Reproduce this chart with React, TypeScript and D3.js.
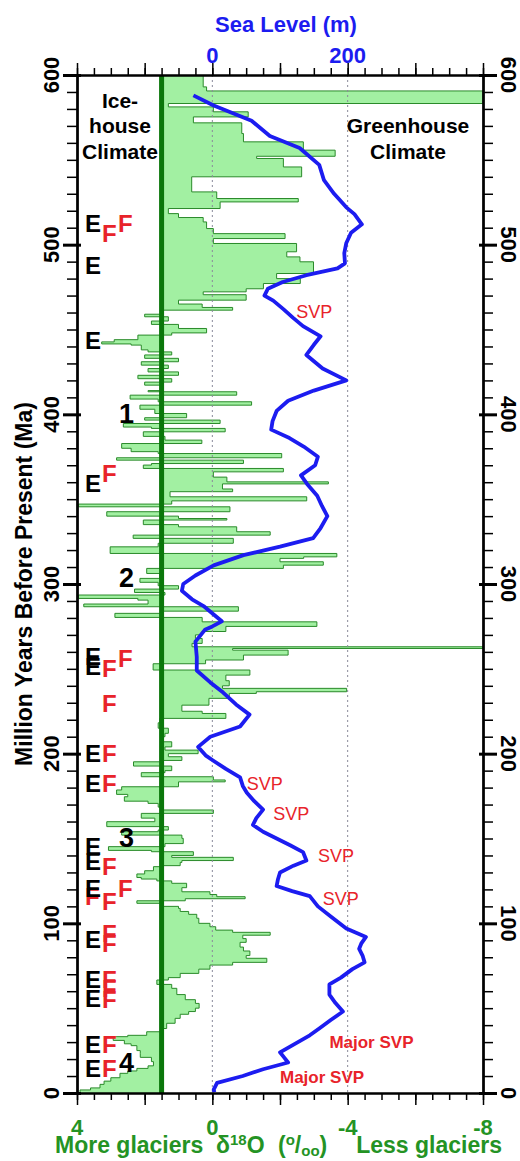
import React, { useEffect, useRef } from 'react';
import * as d3 from 'd3';

// oxygen isotope record, [age Ma, d18O permil]; each value holds until the next (younger) age
const d18O: [number, number][] = [
  [600, 0.27], [593, 0.17], [590.6, -8], [583.2, 1.3], [581.2, -0.03], [578.3, -1.06],
  [575.3, 0.56], [571.8, -0.87], [565.5, -0.92], [560.6, -2.69], [555.7, -3.63], [552.1, -1.31],
  [550.8, -2.1], [545.8, -2.64], [540, 0.61], [531.1, -0.13], [527.2, -2.54], [525.2, -0.23],
  [521.3, 1.3], [518.3, 1.0], [516, 0.27], [513.4, 0.17], [509.5, -0.03], [506.5, -2.15],
  [503.6, -0.03], [500.7, -2.49], [495.8, -2.2], [492.8, -2.59], [489.9, -2.99], [483, -1.9],
  [480, -2.6], [477.1, -1.51], [474, -1.0], [472.2, 0.27], [470.5, -1.0], [467.3, 1.0],
  [465, 0.3], [463, -0.6], [461.4, 1.5], [459, 2.0], [457.5, 1.3], [455, 1.8], [453, 1.0],
  [450.6, 0.17], [448, 1.2], [446.7, 2.2], [444, 2.9], [442.7, 3.27], [441.5, 2.4], [440.8, 2.1],
  [438, 1.9], [436.8, 1.2], [435, 2.0], [433, 1.0], [431, 2.1], [429, 1.3], [427, 1.9],
  [425, 1.0], [423, 2.2], [421, 1.2], [419, 2.0], [417.2, 1.5], [414, 1.9], [413.3, -0.72],
  [411.3, 2.43], [409, 1.6], [407.4, -1.16], [405.4, 2.14], [403, 1.7], [400.5, 0.76],
  [398, 2.0], [396.6, -0.23], [394.6, 2.63], [392.5, 1.8], [391.7, -0.38], [389.7, 2.04],
  [387, 1.4], [384.8, 0.31], [382.8, 2.68], [380, 2.4], [378, 1.6], [376.9, -2.05],
  [374.4, 2.83], [373, -0.92], [371, 1.8], [370.1, 2.04], [368.1, -2.1], [366.1, -0.03],
  [363, -0.43], [360.2, -3.43], [359, -0.3], [356, -0.6], [354.4, 1.25], [351.4, -2.79],
  [349, 1.2], [347.1, 3.96], [345.5, -0.52], [342.6, 3.12], [340, 1.0], [338.6, -0.43],
  [337.7, 2.04], [335, 1.0], [333.7, -0.72], [330.8, -1.71], [328.8, 2.34], [326.9, -0.62],
  [324, 1.6], [321.9, 3.02], [318, -3.68], [316, -2.7], [315.1, -2.0], [313.1, -3.28],
  [311.1, -2.1], [309.2, 1.94], [306.2, 1.55], [303.3, 2.14], [301, 1.6], [299, 1.0],
  [297, 2.3], [295, 1.4], [293.5, 3.96], [291.5, 2.2], [290.5, 1.9], [288.2, 3.8],
  [286.6, -0.77], [284, 1.5], [282.7, 2.88], [280.3, 0.3], [277.7, -3.09], [275, -0.4],
  [272, 0.3], [270, 0.5], [267.9, 0.3], [265, 0.6], [263, -8], [262, -0.6], [261, -2.24],
  [258.1, -0.92], [255.2, 0.2], [253, 1.75], [249.3, -1.11], [246.3, -0.4], [243, -0.5],
  [240, -0.3], [238.5, -3.97], [236.5, -1.3], [235.5, -0.5], [232.6, 0.1], [228.6, 0.9],
  [225, 0.3], [223.7, -0.4], [220.8, 1.55], [218.2, 1.6], [215, 1.3], [212, 1.4], [210, 1.45],
  [207, 1.2], [204, 1.4], [202.1, 0.42], [200, 1.3], [198.2, 0.9], [196, 1.5], [195.2, 2.33],
  [192.7, 1.2], [190, 1.4], [188.8, 2.1], [186.4, -0.03], [184.5, -0.38], [183.4, 1.0],
  [180.5, 2.68], [178.6, 2.83], [176, 2.5], [174.6, 2.6], [172, 1.9], [170.7, 1.6],
  [168.5, 1.5], [166.8, -0.03], [164.8, 2.1], [162, 1.7], [159.9, 3.12], [157, 1.3],
  [155, 1.6], [154, 2.68], [152, 0.9], [150.1, 0.86], [147, 1.4], [145.2, 3.07], [143, 1.8],
  [142.2, 0.56], [140, 1.2], [138.9, -0.62], [137, 0.9], [135.9, 0.95], [134, 1.5],
  [133.4, 1.74], [131, 2.0], [129.1, 2.23], [127, 2.1], [126.1, 1.64], [125, 1.2],
  [123.6, 0.76], [121, 0.9], [118.6, 0.07], [117, -0.13], [115.7, -0.97], [114.5, 0.8],
  [113.3, 2.23], [111.8, 1.45], [110, 1.0], [108.8, 0.95], [107, 0.7], [105.3, 0.46],
  [103, 0.4], [100, 0.07], [98, -0.1], [96, -0.6], [94.7, -1.71], [93, -0.9], [91, -1.0],
  [88.8, -0.82], [86, -0.92], [83.7, -1.11], [81, -1.0], [79.4, -1.61], [77, -0.6],
  [75.4, 0.07], [73, 0.4], [70.5, 0.95], [68, 1.3], [66.6, 1.64], [64, 1.2], [61.7, 1.05],
  [58, 0.8], [55, 0.5], [52.8, 0.39], [50, 0.5], [48, 0.7], [46.4, 0.95], [44, 1.1],
  [41.1, 1.35], [38, 1.5], [36.1, 1.94], [34, 2.5], [33.2, 2.93], [31, 2.6], [29, 2.4],
  [27.9, 2.23], [25, 2.13], [23.4, 2.13], [21, 1.8], [18.5, 1.74], [16, 1.9], [14.5, 2.23],
  [13, 2.5], [11.6, 2.73], [9, 3.0], [7, 3.2], [5.1, 3.32], [3, 3.6], [1.8, 3.91], [0, 3.91],
];

// sea level curve, [age Ma, metres]
const seaLevel: [number, number][] = [
  [588, -28], [582, 2], [573, 58], [564, 85], [557, 129], [547, 158], [538, 165], [530, 180],
  [522, 198], [518, 210], [512, 221], [507, 205], [501, 198], [495, 195], [489, 196], [486, 185],
  [482, 139], [478, 104], [474, 82], [470, 77], [467, 90], [462, 105], [457, 119], [452, 134],
  [446, 160], [441, 150], [435, 139], [427, 163], [420, 198], [414, 150], [408, 112], [402, 95],
  [396, 89], [391, 87], [386, 114], [381, 135], [375, 156], [370, 152], [364, 131], [359, 140],
  [352, 155], [346, 162], [340, 170], [333, 160], [327, 149], [322, 100], [317, 46], [311, 2],
  [305, -25], [300, -43], [296, -45], [291, -30], [287, -13], [282, 2], [278, 14], [275, 0],
  [273, -11], [266, -25], [257, -23], [249, -23], [242, -3], [236, 16], [229, 35], [223, 55],
  [216, 41], [210, -3], [204, -21], [199, -10], [196, 1], [191, 20], [186, 41], [181, 45],
  [177, 51], [172, 62], [167, 75], [162, 65], [158, 60], [154, 75], [150, 95], [146, 115],
  [142, 134], [137, 139], [134, 120], [130, 100], [126, 97], [122, 95], [119, 118], [116, 144],
  [110, 156], [104, 175], [97, 198], [92, 227], [88, 220], [85, 217], [81, 222], [77, 225],
  [73, 207], [68, 190], [64, 173], [58, 173], [53, 182], [48, 193], [43, 175], [38, 158],
  [34, 144], [29, 122], [24, 100], [21, 106], [18, 112], [14, 75], [10, 45], [6, 7], [2, 2],
  [0.5, 3],
];

const ageTicks = [0, 100, 200, 300, 400, 500, 600];
const seaTicks = [0, 200];
const deltaTicks = [4, 0, -4, -8];
const iceThreshold = 1.5;

// E / F event markers: age, column
const eEvents = [507.5, 483, 438.8, 354.3, 252.2, 246.3, 195.2, 177.5, 140.2, 131.4, 115.7, 85.3, 61.7, 50.9, 23.4, 9.6];
const fEvents: [number, number][] = [
  [501.7, 1], [507.5, 2], [360.3, 1], [245.3, 1], [251.2, 2], [224.7, 1], [195.2, 1], [177.5, 1],
  [128.5, 1], [115.7, 2], [110.8, 0], [107.9, 1], [89.2, 1], [83.3, 1], [61.7, 1], [56.7, 1],
  [49.9, 1], [23.4, 1], [9.6, 1],
];
const phases = [
  { label: '1', age: 394.7 },
  { label: '2', age: 298.3 },
  { label: '3', age: 145.1 },
  { label: '4', age: 12.6 },
];
const svpLabels = [
  { text: 'SVP', age: 456.5, sea: 124, major: false },
  { text: 'SVP', age: 178.5, sea: 51, major: false },
  { text: 'SVP', age: 160.9, sea: 90, major: false },
  { text: 'SVP', age: 136.3, sea: 156, major: false },
  { text: 'SVP', age: 110.8, sea: 163, major: false },
  { text: 'Major SVP', age: 26.3, sea: 173, major: true },
  { text: 'Major SVP', age: 5.7, sea: 100, major: true },
];

const W = 520;
const H = 1161;
const left = 77, right = 483, top = 75, bottom = 1093;
const font = '"Liberation Sans", Arial, Helvetica, sans-serif';
const red = '#e8232a';
const blue = '#1c1cf0';
const green = '#249324';

const App = () => {
  const axesRef = useRef<SVGGElement>(null);

  const y = d3.scaleLinear().domain([0, 600]).range([bottom, top]);
  const x = d3.scaleLinear().domain([4, -8]).range([left, right]);
  const xSea = d3.scaleLinear().domain([-200, 400]).range([left, right]);

  useEffect(() => {
    const g = d3.select(axesRef.current);
    g.selectAll('*').remove();

    const add = (axis: any, tx: number, ty: number, sw: number) => {
      const a = g.append('g').attr('transform', `translate(${tx},${ty})`).call(axis);
      a.selectAll('.domain').attr('stroke-width', 2).attr('stroke', '#000');
      a.selectAll('.tick line').attr('stroke-width', sw).attr('stroke', '#000');
      a.selectAll('.tick text').remove();
    };

    const minorAge = d3.range(0, 601, 10);
    const minorSea = d3.range(-200, 401, 25);
    const majorSea = d3.range(-200, 401, 100);
    const minorDelta = d3.range(-8, 4.01, 0.5);
    const majorDelta = d3.range(-8, 4.01, 2);

    add(d3.axisLeft(y).tickValues(minorAge).tickSize(10).tickSizeOuter(0), left, 0, 1.5);
    add(d3.axisLeft(y).tickValues(ageTicks).tickSize(14).tickSizeOuter(0), left, 0, 3);
    add(d3.axisRight(y).tickValues(ageTicks).tickSize(4).tickSizeOuter(0), left, 0, 3);
    add(d3.axisRight(y).tickValues(minorAge).tickSize(10).tickSizeOuter(0), right, 0, 1.5);
    add(d3.axisRight(y).tickValues(ageTicks).tickSize(14).tickSizeOuter(0), right, 0, 3);
    add(d3.axisLeft(y).tickValues(ageTicks).tickSize(4).tickSizeOuter(0), right, 0, 3);
    add(d3.axisTop(xSea).tickValues(minorSea).tickSize(7).tickSizeOuter(0), 0, top, 1.5);
    add(d3.axisTop(xSea).tickValues(majorSea).tickSize(12).tickSizeOuter(0), 0, top, 1.5);
    add(d3.axisBottom(x).tickValues(minorDelta).tickSize(7).tickSizeOuter(0), 0, bottom, 1.5);
    add(d3.axisBottom(x).tickValues(majorDelta).tickSize(12).tickSizeOuter(0), 0, bottom, 1.5);
  }, []);

  const area = d3.area<[number, number]>()
    .y(d => y(d[0]))
    .x0(x(iceThreshold))
    .x1(d => x(d[1]))
    .curve(d3.curveStepBefore);
  const outline = d3.line<[number, number]>()
    .x(d => x(d[1]))
    .y(d => y(d[0]))
    .curve(d3.curveStepBefore);
  const seaLine = d3.line<[number, number]>()
    .x(d => xSea(d[1]))
    .y(d => y(d[0]));

  const fCols = [85, 102, 118];

  return (
    <svg width={W} height={H} style={{ position: 'absolute', left: 0, top: 0, background: '#fff' }} fontFamily={font}>
      <rect width={W} height={H} fill="#fff" />
      {/* d18O record */}
      <path d={area(d18O) || ''} fill="#a2f0a2" stroke="none" />
      <path d={outline(d18O) || ''} fill="none" stroke="#2a8a2a" strokeWidth={1} />
      {/* reference dotted lines */}
      {[0, -4].map(v => (
        <line key={v} x1={x(v)} x2={x(v)} y1={top} y2={bottom} stroke="#8a8a9a" strokeWidth={1} strokeDasharray="2,3" />
      ))}
      <line x1={x(iceThreshold)} x2={x(iceThreshold)} y1={top} y2={bottom} stroke="#0b770b" strokeWidth={5} />
      {/* sea level */}
      <path d={seaLine(seaLevel) || ''} fill="none" stroke={blue} strokeWidth={3.8} strokeLinejoin="round" />

      <g ref={axesRef} />

      {/* tick labels */}
      {ageTicks.map(t => (
        <text key={'l' + t} transform={`translate(59,${y(t)}) rotate(-90)`} textAnchor="middle" fontSize={22} fontWeight="bold">{t}</text>
      ))}
      {ageTicks.map(t => (
        <text key={'r' + t} transform={`translate(501,${y(t)}) rotate(90)`} textAnchor="middle" fontSize={22} fontWeight="bold">{t}</text>
      ))}
      {seaTicks.map(t => (
        <text key={'s' + t} x={xSea(t)} y={63} textAnchor="middle" fontSize={22} fontWeight="bold" fill={blue}>{t}</text>
      ))}
      {deltaTicks.map(t => (
        <text key={'d' + t} x={x(t)} y={1135} textAnchor="middle" fontSize={22} fontWeight="bold" fill={green}>{t}</text>
      ))}

      {/* axis titles */}
      <text x={286} y={32} textAnchor="middle" fontSize={22} fontWeight="bold" fill={blue}>Sea Level (m)</text>
      <text transform={`translate(32,${(top + bottom) / 2}) rotate(-90)`} textAnchor="middle" fontSize={23} fontWeight="bold">
        Million Years Before Present (Ma)
      </text>
      <g fontSize={23} fontWeight="bold" fill={green}>
        <text x={55} y={1153}>More glaciers</text>
        <text x={216} y={1153}>
          δ<tspan dy={-8} fontSize={15}>18</tspan><tspan dy={8}>O</tspan>
        </text>
        <text x={278} y={1153}>
          (<tspan dy={-8} fontSize={15}>o</tspan><tspan dy={8}>/</tspan><tspan dy={3} fontSize={15}>oo</tspan><tspan dy={-3}>)</tspan>
        </text>
        <text x={502} y={1153} textAnchor="end">Less glaciers</text>
      </g>

      {/* climate labels */}
      <g fontSize={21} fontWeight="bold" textAnchor="middle">
        <text x={120} y={108}>Ice-</text>
        <text x={120} y={133}>house</text>
        <text x={120} y={159}>Climate</text>
        <text x={408} y={133}>Greenhouse</text>
        <text x={408} y={159}>Climate</text>
      </g>

      {/* event markers */}
      <g fontSize={24} fontWeight="bold">
        {fEvents.filter(f => f[1] === 0).map((f, i) => (
          <text key={'f0' + i} x={fCols[0]} y={y(f[0])} fill={red}>F</text>
        ))}
        {eEvents.map((a, i) => (
          <text key={'e' + i} x={fCols[0]} y={y(a)} fill="#000">E</text>
        ))}
        {fEvents.filter(f => f[1] !== 0).map((f, i) => (
          <text key={'f' + i} x={fCols[f[1]]} y={y(f[0])} fill={red}>F</text>
        ))}
      </g>
      <g fontSize={27} fontWeight="bold">
        {phases.map(p => (
          <text key={p.label} x={119} y={y(p.age)} fill="#000">{p.label}</text>
        ))}
      </g>
      {svpLabels.map((s, i) => (
        <text key={'svp' + i} x={xSea(s.sea)} y={y(s.age)} fontSize={s.major ? 17 : 18} fontWeight={s.major ? 'bold' : 'normal'} fill={red}>
          {s.text}
        </text>
      ))}
    </svg>
  );
};

export default App;
